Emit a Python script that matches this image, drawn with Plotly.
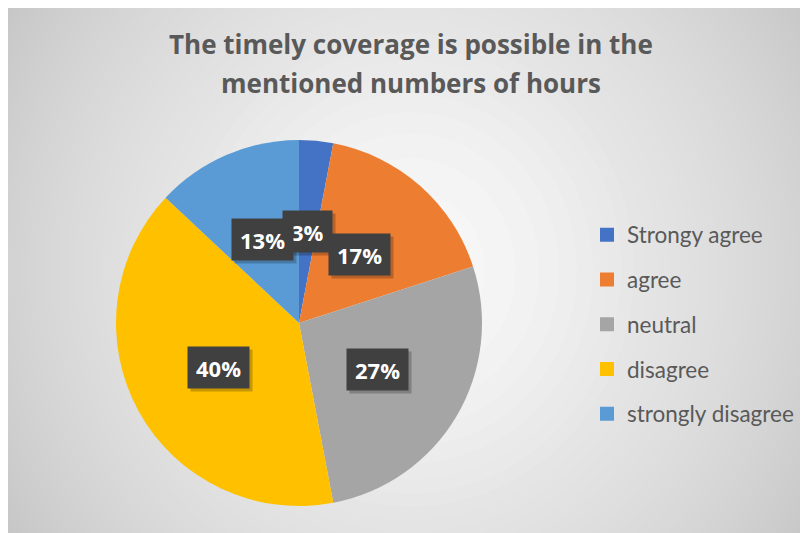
import math
import plotly.graph_objects as go

# ---- data ----
categories = ["Strongy agree", "agree", "neutral", "disagree", "strongly disagree"]
values = [3, 17, 27, 40, 13]
colors = ["#4472C4", "#ED7D31", "#A5A5A5", "#FFC000", "#5B9BD5"]
title_lines = ["The timely coverage is possible in the", "mentioned numbers of hours"]

# ---- geometry ----
W, H = 800, 525          # figure size (page adds an 8px body margin)
OFF = 8
CX, CY, R = 299, 323, 183  # pie centre / radius in screen pixels
TXT = "#595959"

def px2x(sx):
    return (sx - OFF) / W

def px2y(sy):
    return 1 - (sy - OFF) / H

fig = go.Figure()

fig.add_trace(go.Pie(
    labels=categories, values=values,
    marker=dict(colors=colors, line=dict(width=0)),
    sort=False, direction="clockwise", rotation=0,
    textinfo="none", showlegend=False,
    domain=dict(x=[px2x(CX - R), px2x(CX + R)], y=[px2y(CY + R), px2y(CY - R)]),
))

# legend entries (one per category)
for cat, col in zip(categories, colors):
    fig.add_trace(go.Scatter(
        x=[None], y=[None], mode="markers", name=cat, legendgroup=cat,
        marker=dict(symbol="square", size=14, color=col, line=dict(width=0)),
        showlegend=True, hoverinfo="skip",
    ))

# ---- background: radial gradient via stacked translucent ellipses ----
GX, GY, A, B = 410, 270, 400, 423
def shade(d2):
    return 250 - 37 * d2

d2max = max(((x - GX) / A) ** 2 + ((y - GY) / B) ** 2 for x in (OFF, OFF + W) for y in (OFF, OFF + H))
N = 40
bounds = [d2max * (1 - i / N) for i in range(N)] + [0.0]
shapes = []
c = shade((bounds[0] + bounds[1]) / 2)
shapes.append(dict(type="rect", xref="paper", yref="paper", x0=0, x1=1, y0=0, y1=1,
                   fillcolor=f"rgb({c:.0f},{c:.0f},{c:.0f})", line=dict(width=0), layer="below"))
for i in range(1, N):
    target = shade((bounds[i] + bounds[i + 1]) / 2)
    alpha = (target - c) / (255 - c)
    c = target
    s = math.sqrt(bounds[i])
    shapes.append(dict(type="circle", xref="paper", yref="paper",
                       x0=px2x(GX - s * A), x1=px2x(GX + s * A),
                       y0=px2y(GY + s * B), y1=px2y(GY - s * B),
                       fillcolor=f"rgba(255,255,255,{alpha:.4f})", line=dict(width=0), layer="below"))

# ---- data labels (dark boxes) ----
annotations = []
total = sum(values)
cum = 0
pos = []
for v in values:
    mid = (cum + v / 2) / total * 2 * math.pi
    cum += v
    sx = CX + 0.5 * R * math.sin(mid)
    sy = CY - 0.5 * R * math.cos(mid)
    pos.append((px2x(sx), px2y(sy), f"{v}%"))

LBL = dict(family="Open Sans", size=22, weight="bold")
for x, y, t in pos:
    annotations.append(dict(x=x, y=y, xref="paper", yref="paper", text=t, showarrow=False,
                            xanchor="center", yanchor="middle",
                            font=dict(LBL, color="rgba(0,0,0,0)"),
                            bgcolor="rgba(0,0,0,0.22)", borderpad=8, height=25,
                            xshift=3, yshift=-3))
for x, y, t in pos:
    annotations.append(dict(x=x, y=y, xref="paper", yref="paper", text=t, showarrow=False,
                            xanchor="center", yanchor="middle",
                            font=dict(LBL, color="white"),
                            bgcolor="#404040", borderpad=8, height=25))

# ---- title ----
for line, ypx in zip(title_lines, [44, 83]):
    annotations.append(dict(x=px2x(411), y=px2y(ypx), xref="paper", yref="paper", text=line,
                            showarrow=False, xanchor="center", yanchor="middle",
                            font=dict(family="Open Sans", size=26, color=TXT, weight="bold")))

fig.update_layout(
    width=W, height=H,
    margin=dict(l=0, r=0, t=0, b=0),
    paper_bgcolor="white", plot_bgcolor="rgba(0,0,0,0)",
    xaxis=dict(visible=False, domain=[0.98, 1.0]),
    yaxis=dict(visible=False, domain=[0.98, 1.0]),
    showlegend=True,
    legend=dict(x=px2x(587), y=px2y(213.5), xanchor="left", yanchor="top",
                font=dict(family="Lato", size=22.5, color=TXT),
                bgcolor="rgba(0,0,0,0)", tracegroupgap=12.5),
    shapes=shapes,
    annotations=annotations,
)

fig.write_html("out.html")
